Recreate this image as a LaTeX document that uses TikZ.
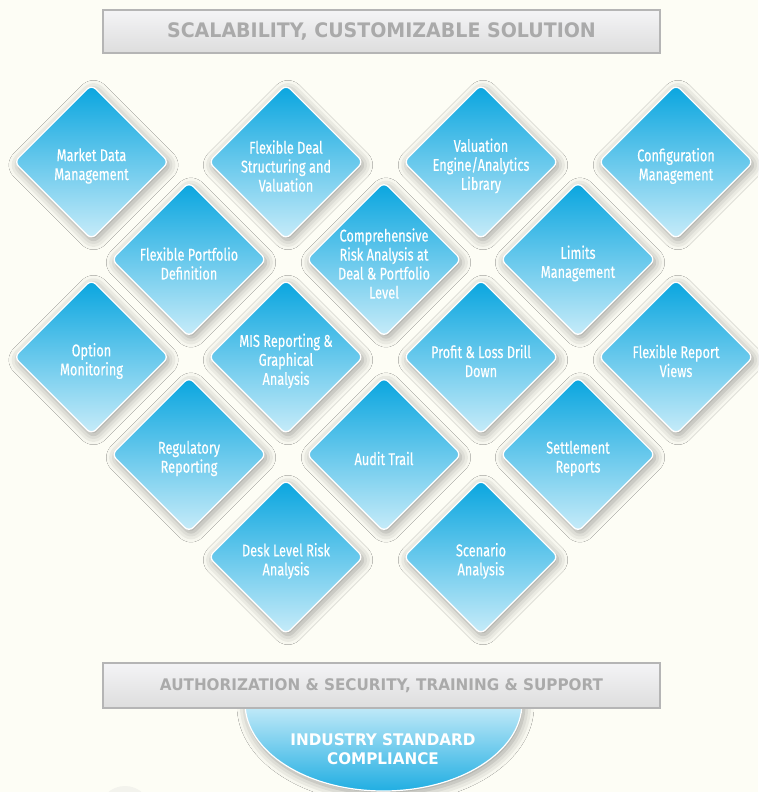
\documentclass[tikz,border=0pt]{standalone}
\usepackage{fontspec}
\usetikzlibrary{shapes.geometric,shadows.blur}
\newfontfamily\tilefont{Fira Sans}[FakeStretch=0.75,FakeBold=0.35]
\newfontfamily\bannerfont{DejaVu Sans}[FakeStretch=0.95]
\definecolor{paper}{HTML}{FDFDF5}
\definecolor{tiletop}{HTML}{08A5DF}
\definecolor{tilebottom}{HTML}{C8ECF9}
\definecolor{bannertop}{HTML}{F4F4F6}
\definecolor{bannerbottom}{HTML}{DDDDDD}
\definecolor{bannerline}{HTML}{B5B5B5}
\definecolor{bannertext}{HTML}{AAAAAA}
\definecolor{ghost}{HTML}{F3F3ED}
\tikzset{
  softshadow/.style={blur shadow={shadow xshift=2pt,shadow yshift=-3pt,
      shadow blur radius=10pt,shadow opacity=40}},
  tile/.style={shape=diamond,minimum width=155pt,minimum height=155pt,
      inner sep=0pt,rounded corners=6pt,draw=white,line width=1.3pt,
      top color=tiletop,bottom color=tilebottom,softshadow},
  tiletext/.style={text=white,align=center,inner sep=0pt,
      font=\tilefont\fontsize{17}{19}\selectfont},
  banner/.style={shape=rectangle,minimum width=557pt,inner sep=0pt,
      draw=bannerline,line width=1.2pt,top color=bannertop,
      bottom color=bannerbottom,text=bannertext},
  seal/.style={draw=white,line width=1.2pt,
      top color=tilebottom,bottom color=tiletop!90!white,softshadow},
}
% one diamond tile with its caption: name, x, y, caption
\newcommand\tilebox[4]{%
  \node[tile] (#1) at (#2,#3) {};
  \node[tiletext] (#1-text) at ([yshift=-4pt]#1.center) {#4};}
\begin{document}
\begin{tikzpicture}[x=1pt,y=-1pt]
\fill[paper] (0,0) rectangle (758,792);
\useasboundingbox (0,0) rectangle (758,792);
\fill[ghost] (125,812) circle (26);

% header
\node[banner,minimum height=43pt] (header) at (381.5,31.5)
  {\bannerfont\bfseries\fontsize{20}{23}\selectfont SCALABILITY, CUSTOMIZABLE SOLUTION};

% tiles, row by row
\tilebox{market}{91.5}{162}{Market Data\\Management}
\tilebox{deal}{286}{162}{Flexible Deal\\Structuring and\\Valuation}
\tilebox{valuation}{481}{162}{Valuation\\Engine/Analytics\\Library}
\tilebox{config}{676}{162}{Configuration\\Management}

\tilebox{portfolio}{189}{259.5}{Flexible Portfolio\\Definition}
\tilebox{risk}{384}{259.5}{Comprehensive\\Risk Analysis at\\Deal \& Portfolio\\Level}
\tilebox{limits}{578}{259.5}{Limits\\Management}

\tilebox{option}{91.5}{357}{Option\\Monitoring}
\tilebox{mis}{286}{357}{MIS Reporting \&\\Graphical\\Analysis}
\tilebox{pnl}{481}{357}{Profit \& Loss Drill\\Down}
\tilebox{views}{676}{357}{Flexible Report\\Views}

\tilebox{regulatory}{189}{454.5}{Regulatory\\Reporting}
\tilebox{audit}{384}{454.5}{Audit Trail}
\tilebox{settlement}{578}{454.5}{Settlement\\Reports}

\tilebox{desk}{286}{557}{Desk Level Risk\\Analysis}
\tilebox{scenario}{481}{557}{Scenario\\Analysis}

% compliance seal: lower half of an ellipse hanging from the footer
\path[seal] (245,703) arc[start angle=180,end angle=0,
  x radius=138.5,y radius=88] -- cycle;
\node[text=white,align=center,inner sep=0pt,
  font=\bannerfont\bfseries\fontsize{16}{19}\selectfont] (seal-text)
  at (383,749) {INDUSTRY STANDARD\\COMPLIANCE};

% footer
\node[banner,minimum height=45pt] (footer) at (381.5,685.5)
  {\bannerfont\bfseries\fontsize{16}{19}\selectfont AUTHORIZATION \& SECURITY, TRAINING \& SUPPORT};
\end{tikzpicture}
\end{document}
